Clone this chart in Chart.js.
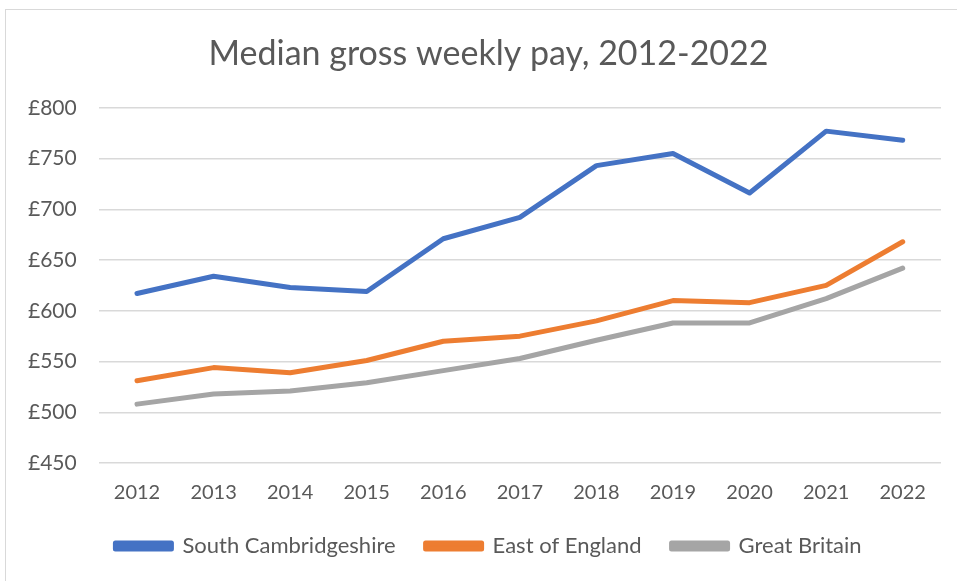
<!DOCTYPE html>
<html>
<head>
<meta charset="utf-8">
<script src="https://cdn.jsdelivr.net/npm/chart.js@4"></script>
<style>
    body { margin: 0; background: #fff; }
    #frame {
        position: absolute; left: 5px; top: 9px; width: 960px; height: 580px;
        border: 1px solid #d9d9d9; box-sizing: border-box;
    }
    #wrap { position: absolute; left: 0; top: 0; width: 957px; height: 581px; }
</style>
</head>
<body>
<div id="frame"></div>
<div id="wrap"><canvas id="pay-chart" width="957" height="581"></canvas></div>
<script>
    const years = ['2012', '2013', '2014', '2015', '2016', '2017', '2018', '2019', '2020', '2021', '2022'];
    const southCambs = [617, 634, 623, 619, 671, 692, 743, 755, 716, 777, 768];
    const eastOfEngland = [531, 544, 539, 551, 570, 575, 590, 610, 608, 625, 668];
    const greatBritain = [508, 518, 521, 529, 541, 553, 571, 588, 588, 612, 642];
    const yTicks = [450, 500, 550, 600, 650, 700, 750, 800];

    const font = 'Lato, "Liberation Sans", sans-serif';
    const grey = '#595959';

    // title and legend sit a little right of the canvas centre in the original
    const centreShift = {
        id: 'centreShift',
        afterLayout(chart) {
            [chart.titleBlock, chart.legend].forEach(box => {
                box.left += 15;
                box.right += 15;
            });
        }
    };

    function line(label, data, colour) {
        return {
            label: label,
            data: data,
            borderColor: colour,
            backgroundColor: colour,
            borderWidth: 5,
            borderCapStyle: 'round',
            borderJoinStyle: 'round',
            pointRadius: 0,
            tension: 0
        };
    }

    new Chart(document.getElementById('pay-chart').getContext('2d'), {
        type: 'line',
        data: {
            labels: years,
            datasets: [
                line('South Cambridgeshire', southCambs, '#4472C4'),
                line('East of England', eastOfEngland, '#ED7D31'),
                line('Great Britain', greatBritain, '#A5A5A5')
            ]
        },
        options: {
            responsive: false,
            animation: false,
            layout: { padding: { left: 6, right: 16, top: 34, bottom: 14 } },
            plugins: {
                title: {
                    display: true,
                    text: 'Median gross weekly pay, 2012-2022',
                    color: grey,
                    font: { family: font, size: 34, weight: 'normal' },
                    padding: { top: 0, bottom: 33 }
                },
                legend: {
                    position: 'bottom',
                    labels: {
                        color: grey,
                        font: { family: font, size: 22 },
                        boxWidth: 56,
                        boxHeight: 6,
                        padding: 30
                    }
                },
                tooltip: { enabled: false }
            },
            scales: {
                x: {
                    offset: true,
                    grid: { display: false, drawTicks: false },
                    border: { display: false },
                    ticks: { color: grey, font: { family: font, size: 20 }, padding: 18 },
                    afterFit: axis => { axis.height = 42; }
                },
                y: {
                    min: 450,
                    max: 800,
                    afterBuildTicks: axis => { axis.ticks = yTicks.map(v => ({ value: v })); },
                    grid: { color: '#d9d9d9', lineWidth: 1.5, drawTicks: false },
                    border: { display: false },
                    ticks: {
                        color: grey,
                        font: { family: font, size: 21 },
                        padding: 22,
                        callback: v => '£' + v
                    }
                }
            }
        },
        plugins: [centreShift]
    });
</script>
</body>
</html>
